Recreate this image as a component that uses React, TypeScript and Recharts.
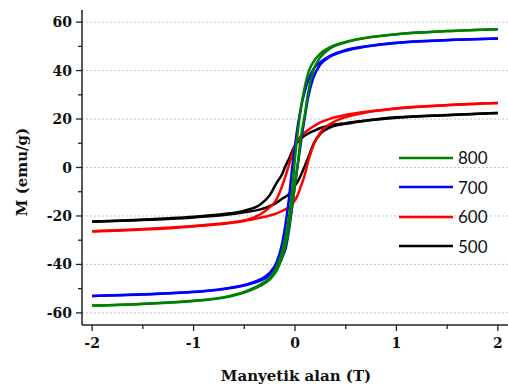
import { LineChart, Line, XAxis, YAxis, CartesianGrid } from 'recharts';

// applied field (T), shared by every branch
const field = [-2, -1.5, -1, -0.7, -0.5, -0.35, -0.25, -0.18, -0.13, -0.09, -0.06, -0.03, 0, 0.03, 0.06, 0.09, 0.13, 0.18, 0.25, 0.35, 0.5, 0.7, 1, 1.5, 2];

// magnetisation (emu/g), descending branch / ascending branch
const down800 = [-57, -56.2, -55, -53.5, -51.3, -48.5, -45.5, -41, -35, -28, -21, -10.5, 4, 15.5, 25, 32, 39, 43.5, 47, 49.7, 51.8, 53.5, 55, 56.3, 57.1];
const up800 = [-57, -56.3, -55.1, -53.7, -51.6, -49, -46.3, -42.5, -37.5, -31.5, -25, -16, -7, 2.5, 13, 20, 31, 40, 45.5, 49.2, 51.7, 53.5, 55, 56.3, 57.1];
const down700 = [-53, -52.3, -51.3, -50, -48.5, -46.3, -43.5, -39, -32, -22.5, -13, -1, 9, 18, 25, 30.5, 36, 40.5, 43.5, 46.2, 48.5, 50, 51.5, 52.6, 53.2];
const up700 = [-53, -52.4, -51.4, -50.2, -48.7, -46.8, -44.5, -41, -37.5, -33, -26, -17, -7, 2, 11, 19, 29, 37, 42.5, 45.8, 48.2, 49.9, 51.4, 52.5, 53.2];
const down600 = [-26.3, -25.4, -24.1, -23, -21.8, -19.5, -16.5, -13, -8, -3, 1, 5, 9, 11.5, 13, 14.2, 15.5, 16.9, 18.6, 20.2, 21.7, 23, 24.5, 25.8, 26.6];
const up600 = [-26.4, -25.6, -24.3, -23.2, -22.1, -20.8, -19.8, -18.9, -18, -17.2, -16.3, -15.2, -13.5, -11, -7.5, -4, 2.5, 9, 14.5, 18, 20.8, 22.7, 24.3, 25.7, 26.6];
const down500 = [-22.3, -21.5, -20.3, -19.2, -17.8, -15.5, -11.5, -6.3, -3, 1, 3.5, 6.5, 9, 10.7, 12, 13, 14, 15, 16.3, 17.5, 18.3, 19.4, 20.7, 21.7, 22.5];
const up500 = [-22.4, -21.7, -20.6, -19.6, -18.5, -17.4, -16, -14.5, -13, -12, -11, -9.5, -7.5, -5.5, -3, 0, 4, 9.5, 14, 16.6, 18, 19.3, 20.5, 21.6, 22.5];

const labels = ['800', '700', '600', '500'];
const colors = ['#008000', '#0000ff', '#ff0000', '#000000'];
const branches = [
  [down800, up800],
  [down700, up700],
  [down600, up600],
  [down500, up500],
];

const xTicks = [-2, -1.5, -1, -0.5, 0, 0.5, 1, 1.5, 2];
const yTicks = [-60, -50, -40, -30, -20, -10, 0, 10, 20, 30, 40, 50, 60];
const gridValues = [-60, -40, -20, 0, 20, 40, 60];

const AXIS_X = 82;
const AXIS_Y = 325;
const serif = 'DejaVu Serif';

const toRows = (m: number[]) => field.map((x, i) => ({ x, m: m[i] }));

const YTick = (props: any) => {
  const { y, payload } = props;
  const major = payload.value % 20 === 0;
  return (
    <g>
      <line x1={AXIS_X - (major ? 6 : 4)} x2={AXIS_X} y1={y} y2={y} stroke="#222" strokeWidth={1.3} />
      {major && (
        <text x={AXIS_X - 10} y={y} dy="0.36em" textAnchor="end" fontFamily={serif} fontWeight="bold" fontSize={14} fill="#111">
          {payload.value}
        </text>
      )}
    </g>
  );
};

const XTick = (props: any) => {
  const { x, payload } = props;
  const major = Number.isInteger(payload.value);
  return (
    <g>
      <line x1={x} x2={x} y1={AXIS_Y} y2={AXIS_Y + (major ? 6 : 4)} stroke="#222" strokeWidth={1.3} />
      {major && (
        <text x={x} y={AXIS_Y + 23} textAnchor="middle" fontFamily={serif} fontWeight="bold" fontSize={14} fill="#111">
          {payload.value}
        </text>
      )}
    </g>
  );
};

const LegendBox = () => (
  <div style={{ position: 'absolute', left: 398, top: 143, fontFamily: 'Lato', fontSize: 17, color: '#111' }}>
    {labels.map((name, i) => (
      <div key={name} style={{ height: 29.5, display: 'flex', alignItems: 'center' }}>
        <svg width={56} height={4} style={{ marginRight: 4 }}>
          <line x1={1} x2={55} y1={2} y2={2} stroke={colors[i]} strokeWidth={2.5} />
        </svg>
        <span>{name}</span>
      </div>
    ))}
  </div>
);

const App = () => {
  const order = [3, 2, 1, 0];
  return (
    <div style={{ position: 'absolute', left: 0, top: 0, width: 508, height: 385, background: '#fff' }}>
      <LineChart width={508} height={385} margin={{ top: 10, right: 0, bottom: 0, left: 0 }}>
        <CartesianGrid vertical={false} stroke="#c4c4c4" strokeDasharray="2 2" horizontalValues={gridValues} />
        <XAxis
          type="number"
          dataKey="x"
          domain={[-2.1, 2.1]}
          ticks={xTicks}
          allowDataOverflow
          height={60}
          stroke="#222"
          strokeWidth={1.5}
          tickLine={false}
          tick={<XTick />}
          label={() => (
            <text x={296} y={381} textAnchor="middle" fontFamily={serif} fontWeight="bold" fontSize={15} fill="#111">
              Manyetik alan (T)
            </text>
          )}
        />
        <YAxis
          type="number"
          domain={[-65, 65]}
          ticks={yTicks}
          allowDataOverflow
          width={82}
          stroke="#222"
          strokeWidth={1.5}
          tickLine={false}
          tick={<YTick />}
          label={() => (
            <text x={27} y={172} transform="rotate(-90 27 172)" textAnchor="middle" fontFamily={serif} fontWeight="bold" fontSize={15} fill="#111">
              M (emu/g)
            </text>
          )}
        />
        {order.map((i) =>
          branches[i].map((b, j) => (
            <Line
              key={labels[i] + j}
              data={toRows(b)}
              dataKey="m"
              name={labels[i]}
              type="monotone"
              stroke={colors[i]}
              strokeWidth={2.5}
              dot={false}
              isAnimationActive={false}
            />
          ))
        )}
      </LineChart>
      <LegendBox />
    </div>
  );
};

export default App;
